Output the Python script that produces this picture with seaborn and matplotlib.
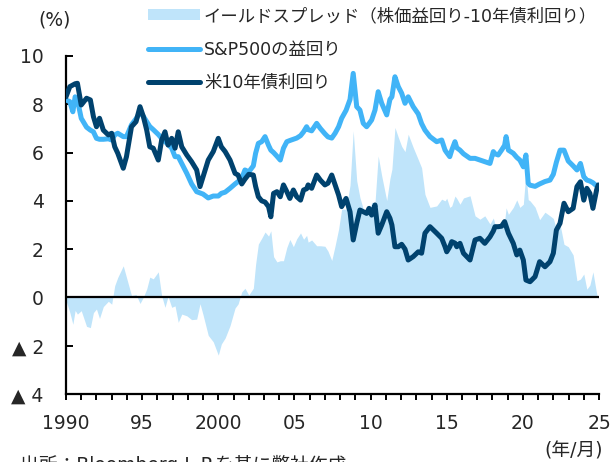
import numpy as np
import pandas as pd
import matplotlib
matplotlib.use("Agg")
import matplotlib.pyplot as plt
import seaborn as sns
from matplotlib.ticker import MultipleLocator, FixedLocator

# Observation dates (decimal years)
dates = [
    1990.00, 1990.25, 1990.45, 1990.60, 1990.75, 1991.00, 1991.35, 1991.60, 1991.80,
    1992.00, 1992.20, 1992.45, 1992.78, 1993.00, 1993.20, 1993.40, 1993.76, 1993.97,
    1994.30, 1994.60, 1994.86, 1995.08, 1995.30, 1995.50, 1995.73, 1996.06, 1996.28,
    1996.50, 1996.70, 1996.94, 1997.16, 1997.37, 1997.60, 1997.93, 1998.25, 1998.58,
    1998.80, 1999.00, 1999.34, 1999.67, 2000.00, 2000.20, 2000.45, 2000.77, 2001.10,
    2001.30, 2001.54, 2001.75, 2002.00, 2002.30, 2002.45, 2002.63, 2002.85, 2003.07,
    2003.30, 2003.45, 2003.63, 2003.85, 2004.07, 2004.28, 2004.50, 2004.70, 2004.93,
    2005.15, 2005.40, 2005.60, 2005.80, 2005.90, 2006.13, 2006.46, 2006.70, 2007.00,
    2007.20, 2007.45, 2007.67, 2007.90, 2008.10, 2008.39, 2008.65, 2008.86, 2009.09,
    2009.30, 2009.52, 2009.74, 2009.90, 2010.07, 2010.29, 2010.50, 2010.73, 2011.06,
    2011.27, 2011.40, 2011.60, 2011.82, 2012.04, 2012.26, 2012.47, 2012.80, 2013.13,
    2013.35, 2013.57, 2013.90, 2014.34, 2014.67, 2014.89, 2015.00, 2015.20, 2015.33,
    2015.54, 2015.66, 2015.87, 2016.10, 2016.53, 2016.86, 2017.18, 2017.50, 2017.84,
    2018.06, 2018.17, 2018.38, 2018.60, 2018.80, 2018.90, 2019.05, 2019.37, 2019.60,
    2019.80, 2020.03, 2020.20, 2020.35, 2020.47, 2020.80, 2021.10, 2021.45, 2021.78,
    2022.00, 2022.20, 2022.44, 2022.70, 2022.98, 2023.30, 2023.55, 2023.78, 2024.00,
    2024.20, 2024.40, 2024.60, 2024.84, 2024.95,
]

# S&P500 earnings yield (%)
sp500_yield = [
    8.18, 8.11, 7.69, 8.31, 8.18, 7.42, 7.05, 6.93, 6.86,
    6.59, 6.55, 6.55, 6.57, 6.52, 6.73, 6.80, 6.66, 6.66,
    7.15, 7.40, 7.65, 7.50, 7.28, 7.08, 6.95, 6.75, 6.59,
    6.45, 6.35, 6.18, 5.83, 5.83, 5.55, 5.14, 4.70, 4.38,
    4.33, 4.28, 4.12, 4.20, 4.20, 4.31, 4.36, 4.52, 4.70,
    4.80, 4.93, 5.28, 5.20, 5.45, 5.97, 6.38, 6.45, 6.66,
    6.30, 6.10, 6.00, 5.85, 5.69, 6.18, 6.45, 6.50, 6.55,
    6.60, 6.70, 6.86, 7.07, 6.95, 6.90, 7.21, 7.00, 6.78,
    6.65, 6.60, 6.80, 7.07, 7.42, 7.75, 8.20, 9.28, 7.90,
    7.76, 7.21, 7.07, 7.20, 7.35, 7.76, 8.52, 8.04, 7.56,
    8.20, 8.31, 9.14, 8.73, 8.46, 8.04, 8.31, 7.90, 7.60,
    7.20, 6.93, 6.66, 6.45, 6.52, 6.10, 6.00, 5.83, 6.10,
    6.45, 6.20, 6.10, 5.95, 5.76, 5.76, 5.69, 5.62, 5.55,
    6.04, 5.95, 5.90, 6.10, 6.30, 6.66, 6.10, 5.97, 5.80,
    5.69, 5.41, 5.90, 4.73, 4.65, 4.60, 4.70, 4.80, 4.86,
    5.10, 5.60, 6.10, 6.10, 5.65, 5.45, 5.28, 5.55, 5.00,
    4.86, 4.82, 4.75, 4.62, 4.59,
]

# US 10-year Treasury yield (%)
ust10_yield = [
    8.31, 8.73, 8.80, 8.85, 8.87, 7.97, 8.25, 8.18, 7.49,
    7.07, 7.42, 6.93, 6.73, 6.80, 6.24, 5.97, 5.35, 5.83,
    7.07, 7.28, 7.90, 7.49, 6.93, 6.24, 6.18, 5.69, 6.52,
    6.86, 6.31, 6.59, 6.18, 6.86, 6.24, 5.90, 5.62, 5.28,
    4.59, 5.00, 5.69, 6.04, 6.59, 6.24, 6.04, 5.69, 5.14,
    5.07, 4.70, 4.90, 5.10, 5.07, 4.60, 4.17, 4.00, 3.95,
    3.76, 3.34, 4.31, 4.38, 4.17, 4.66, 4.38, 4.10, 4.45,
    4.17, 4.03, 4.45, 4.50, 4.66, 4.52, 5.07, 4.86, 4.66,
    4.73, 5.07, 4.66, 4.24, 3.76, 4.10, 3.55, 2.38, 3.07,
    3.62, 3.55, 3.48, 3.69, 3.41, 3.83, 2.66, 3.00, 3.55,
    3.28, 3.00, 2.10, 2.10, 2.20, 2.00, 1.55, 1.69, 1.89,
    1.83, 2.66, 2.93, 2.66, 2.45, 2.10, 1.89, 2.10, 2.31,
    2.25, 2.10, 2.24, 1.83, 1.55, 2.38, 2.45, 2.24, 2.51,
    2.75, 2.93, 2.93, 2.95, 3.14, 2.95, 2.66, 2.24, 1.76,
    1.96, 1.55, 0.72, 0.68, 0.65, 0.86, 1.48, 1.27, 1.48,
    1.83, 2.79, 3.07, 3.90, 3.55, 3.69, 4.59, 4.79, 4.03,
    4.52, 4.31, 3.69, 4.45, 4.66,
]

y_ticks = [-4, -2, 0, 2, 4, 6, 8, 10]
y_tick_labels = ["▲ 4", "▲ 2", "0", "2", "4", "6", "8", "10"]
x_ticks = [1990, 1995, 2000, 2005, 2010, 2015, 2020, 2025]
x_tick_labels = ["1990", "95", "2000", "05", "10", "15", "20", "25"]

label_spread = "イールドスプレッド（株価益回り-10年債利回り）"
label_sp = "S&P500の益回り"
label_ust = "米10年債利回り"

df = pd.DataFrame({"date": dates, "sp": sp500_yield, "ust": ust10_yield})
df["spread"] = df["sp"] - df["ust"]

sns.set_theme(style="white")
plt.rcParams["font.family"] = ["DejaVu Sans", "Noto Sans CJK JP"]

C_SP = "#41B4F7"
C_UST = "#00426E"
C_FILL = "#BFE4FA"

fig = plt.figure(figsize=(6.10, 4.62), dpi=100)
ax = fig.add_axes([0.1082, 0.1472, 0.8738, 0.7316])

ax.fill_between(df["date"], 0, df["spread"], color=C_FILL, linewidth=0,
                interpolate=True, label=label_spread, zorder=1)
ax.axhline(0, color="black", linewidth=1.6, zorder=2)
sns.lineplot(data=df, x="date", y="sp", color=C_SP, linewidth=3.6,
             label=label_sp, ax=ax, zorder=3)
sns.lineplot(data=df, x="date", y="ust", color=C_UST, linewidth=3.6,
             label=label_ust, ax=ax, zorder=4)

ax.set_xlim(1990, 2025)
ax.set_ylim(-4, 10)
ax.set_xlabel("")
ax.set_ylabel("")

ax.yaxis.set_major_locator(FixedLocator(y_ticks))
ax.set_yticklabels(y_tick_labels)
ax.xaxis.set_major_locator(FixedLocator(x_ticks))
ax.set_xticklabels(x_tick_labels)
ax.xaxis.set_minor_locator(MultipleLocator(1))

for side in ["top", "right"]:
    ax.spines[side].set_visible(False)
for side in ["left", "bottom"]:
    ax.spines[side].set_color("black")
    ax.spines[side].set_linewidth(1.6)

ax.tick_params(axis="y", which="major", direction="in", length=5, width=1.4,
               color="black", labelsize=13.5, pad=16, left=True)
ax.tick_params(axis="x", which="both", direction="out", length=4.5, width=1.4,
               color="black", labelsize=13.5, pad=10, bottom=True)

handles, labels = ax.get_legend_handles_labels()
order = [labels.index(label_spread), labels.index(label_sp), labels.index(label_ust)]
ax.get_legend().remove()
fig.legend([handles[i] for i in order], [labels[i] for i in order],
           loc="upper left", bbox_to_anchor=(0.232, 1.0), frameon=False,
           fontsize=12.5, handlelength=2.95, handleheight=0.6,
           handletextpad=0.25, labelspacing=0.9, borderaxespad=0)

fig.text(55 / 610, 1 - 20 / 462, "(%)", fontsize=13.5, ha="center", va="center")
fig.text(574 / 610, 1 - 451 / 462, "(年/月)", fontsize=13.5, ha="center", va="center")
fig.text(20 / 610, 1 - 455 / 462, "出所：Bloomberg L.P.を基に弊社作成", fontsize=13.5,
         ha="left", va="top")

fig.savefig("out.png", dpi=100)
